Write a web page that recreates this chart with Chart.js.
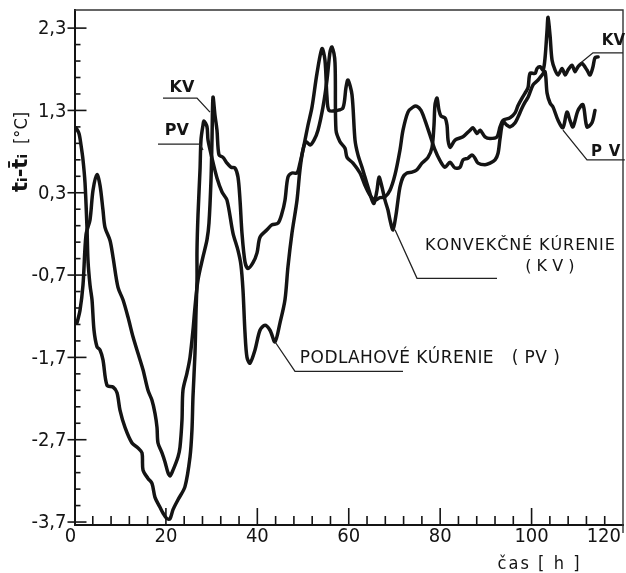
<!DOCTYPE html>
<html>
<head>
<meta charset="utf-8">
<script src="https://cdn.jsdelivr.net/npm/chart.js@4.4.1/dist/chart.umd.min.js"></script>
<style>
html,body{margin:0;padding:0;background:#fff;}
#wrap{width:626px;height:573px;position:relative;}
</style>
</head>
<body>
<div id="wrap"><canvas id="c" width="626" height="573"></canvas></div>
<script>
// ---- data (hours, temperature deviation °C) ----
const kvHours = [0.55,1.20,1.86,2.52,3.39,4.05,4.92,5.58,6.23,6.67,
7.77,8.42,9.52,10.61,11.70,12.80,13.89,14.99,16.08,16.95,
17.61,18.05,18.27,19.14,19.80,20.45,20.89,21.55,22.64,23.08,
23.52,23.73,24.61,25.27,25.92,26.36,27.02,28.11,28.99,29.42,
29.86,30.08,30.30,30.74,31.17,31.61,32.49,33.36,34.24,35.11,
35.77,36.21,36.64,37.30,37.96,39.05,39.93,40.58,42.11,43.21,
44.52,45.39,46.05,46.70,47.58,48.68,49.33,50.21,51.08,51.96,
53.05,54.15,54.80,55.24,55.68,57.43,58.74,59.40,59.83,60.71,
61.37,62.02,62.90,63.55,64.43,65.08,65.52,66.18,66.62,67.27,
67.93,68.58,69.02,69.68,70.33,70.77,71.21,71.87,72.74,73.84,
74.93,76.02,77.34,78.21,78.65,78.87,79.31,79.75,80.19,81.06,
81.50,81.72,82.16,83.25,85.00,86.53,87.18,88.06,88.72,89.81,
90.91,92.44,93.10,93.75,95.29,96.38,97.04,97.91,98.57,99.23,
99.67,100.76,101.20,101.86,102.51,102.95,103.39,103.60,104.04,104.48,
105.14,105.79,106.67,107.33,107.96,108.84,109.49,110.15,111.02,112.12,
112.78,113.43,113.87,114.55];
const kvValues = [-1.28,-1.13,-0.82,-0.21,-0.03,0.33,0.52,0.39,0.09,-0.12,
-0.28,-0.48,-0.85,-1.00,-1.21,-1.45,-1.65,-1.85,-2.10,-2.22,
-2.38,-2.55,-2.74,-2.86,-2.97,-3.10,-3.14,-3.07,-2.91,-2.79,
-2.46,-2.10,-1.89,-1.70,-1.37,-1.09,-0.76,-0.48,-0.27,-0.07,
0.45,0.94,1.46,1.24,1.06,0.76,0.73,0.66,0.61,0.60,
0.49,0.21,-0.19,-0.54,-0.62,-0.55,-0.43,-0.24,-0.15,-0.09,
-0.07,0.05,0.21,0.49,0.54,0.54,0.66,0.88,1.12,1.34,
1.75,2.05,1.91,1.46,1.30,1.30,1.33,1.58,1.67,1.49,
0.94,0.76,0.61,0.49,0.33,0.21,0.17,0.33,0.49,0.37,
0.21,0.09,-0.03,-0.15,0.03,0.21,0.37,0.49,0.54,0.55,
0.58,0.66,0.73,0.85,1.12,1.37,1.45,1.30,1.23,1.21,
1.12,0.94,0.85,0.94,0.98,1.06,1.09,1.02,1.06,0.98,
0.96,0.98,1.10,1.18,1.21,1.27,1.36,1.45,1.51,1.58,
1.75,1.75,1.81,1.83,1.79,1.94,2.28,2.43,2.21,1.91,
1.79,1.73,1.81,1.73,1.79,1.85,1.77,1.83,1.87,1.79,
1.73,1.83,1.94,1.95];

const pvHours = [0.33,0.98,1.42,1.86,2.30,2.73,2.95,3.39,3.83,4.27,
4.92,5.58,6.23,7.11,8.42,9.30,9.95,11.05,12.58,13.89,
14.77,14.99,16.08,16.95,17.61,18.70,19.36,20.24,20.89,21.55,
22.64,24.17,25.27,25.70,25.92,26.36,26.58,26.80,26.80,27.02,
27.46,27.67,28.11,28.33,28.99,29.21,30.08,31.17,32.27,33.36,
34.67,35.77,36.42,36.86,37.30,37.74,38.39,39.49,40.58,41.68,
42.77,43.86,44.96,46.05,46.70,47.58,48.68,49.33,49.99,50.65,
51.52,52.40,53.27,54.36,55.24,55.90,56.33,56.99,57.21,58.08,
59.18,59.62,60.93,62.46,63.55,64.65,65.74,66.83,67.93,69.02,
70.12,71.21,71.87,72.96,74.06,74.93,75.81,76.68,77.78,78.87,
79.97,81.06,82.16,83.25,84.34,85.00,86.09,86.97,87.62,88.28,
89.81,90.91,92.00,92.66,93.10,93.75,94.63,95.29,96.38,97.04,
97.91,98.57,99.23,100.32,101.42,102.29,102.95,103.39,104.04,104.70,
105.79,106.86,107.74,108.40,109.05,110.15,111.24,112.12,113.21,113.87];
const pvValues = [1.09,1.02,0.88,0.70,0.42,-0.12,-0.52,-0.82,-1.00,-1.37,
-1.57,-1.61,-1.73,-2.04,-2.06,-2.13,-2.34,-2.55,-2.74,-2.80,
-2.86,-3.07,-3.17,-3.23,-3.40,-3.52,-3.59,-3.66,-3.66,-3.55,
-3.43,-3.27,-2.91,-2.58,-2.18,-1.65,-1.16,-0.76,-0.40,0.03,
0.58,0.94,1.12,1.17,1.10,0.94,0.72,0.48,0.31,0.21,
-0.19,-0.40,-0.58,-0.88,-1.40,-1.70,-1.77,-1.61,-1.37,-1.31,
-1.37,-1.51,-1.28,-1.00,-0.60,-0.19,0.21,0.58,0.82,0.92,
0.88,0.94,1.06,1.34,1.67,2.01,2.07,1.88,1.06,0.92,
0.84,0.73,0.66,0.54,0.39,0.27,0.21,0.24,0.25,0.33,
0.52,0.82,1.06,1.28,1.34,1.35,1.30,1.18,1.00,0.82,
0.69,0.61,0.67,0.60,0.61,0.70,0.72,0.76,0.72,0.66,
0.64,0.66,0.70,0.78,0.96,1.16,1.12,1.10,1.15,1.22,
1.33,1.40,1.46,1.61,1.67,1.73,1.77,1.51,1.39,1.34,
1.18,1.09,1.28,1.18,1.10,1.30,1.37,1.10,1.15,1.30];

const xTickValues = [0,20,40,60,80,100,120];
const xTickLabels = ['0','20','40','60','80','100','120'];
const yTickValues = [2.3,1.3,0.3,-0.7,-1.7,-2.7,-3.7];
const yTickLabels = ['2,3','1,3','0,3','-0,7','-1,7','-2,7','-3,7'];

const xTitle = 'čas [ h ]';
const yTitleMain = 't\u1D62-t\u0304\u1D62';
const yTitleUnit = '[°C]';

// annotation texts and anchors (data coordinates)
const notes = [
  {text:'KV', x:23.5, y:1.58, bold:true, size:16, pts:[[19.36,1.45],[26.80,1.45],[29.64,1.28]]},
  {text:'PV', x:22.4, y:1.05, bold:true, size:16, pts:[[18.27,0.89],[27.46,0.89],[28.11,0.82]]},
  {text:'KV', x:117.9, y:2.14, bold:true, size:15, pts:[[110.59,1.87],[113.43,2.00],[120.0,2.00]]},
  {text:'PV', y:0.79, bold:true, size:15, spanFrom:113.0, spanTo:119.4, pts:[[106.86,1.06],[112.12,0.70],[120.4,0.70]]},
  {text:'KONVEKČNÉ KÚRENIE', y:-0.35, size:16, spanFrom:76.7, spanTo:118.2, pts:[[70.12,-0.15],[74.93,-0.74],[92.44,-0.74]]},
  {text:'( K V )', x:104.0, y:-0.60, size:16, pts:null},
  {text:'PODLAHOVÉ KÚRENIE   ( PV )', y:-1.71, size:17, spanFrom:49.3, spanTo:106.2, pts:[[43.86,-1.51],[48.24,-1.87],[71.87,-1.87]]}
];

const FONT = "'Liberation Sans Narrow','DejaVu Sans Condensed','Liberation Sans',sans-serif";
const INK = '#141414';

function drawSpaced(ctx, text, x0, x1, y){
  ctx.textAlign = 'left';
  const chars = [...text];
  const w = chars.reduce((s,c)=>s+ctx.measureText(c).width,0);
  const gap = chars.length>1 ? (x1-x0-w)/(chars.length-1) : 0;
  let x = x0;
  for(const c of chars){ ctx.fillText(c, x, y); x += ctx.measureText(c).width + gap; }
}

const decor = {
  id:'decor',
  afterDraw(chart){
    const {ctx, chartArea:a, scales:{x, y}} = chart;
    ctx.save();
    // frame
    ctx.strokeStyle = '#333'; ctx.lineWidth = 1.4;
    ctx.beginPath(); ctx.moveTo(a.left, a.top); ctx.lineTo(a.right, a.top); ctx.lineTo(a.right, a.bottom+8); ctx.stroke();
    // y ticks (inward, every 0.2)
    ctx.strokeStyle = INK; ctx.lineWidth = 1.6;
    for(let i=0;i<=30;i++){
      const v = -3.7 + i*0.2, py = y.getPixelForValue(v), major = i%5===0;
      ctx.beginPath(); ctx.moveTo(major? a.left-7 : a.left, py); ctx.lineTo(a.left + (major?12:6), py); ctx.stroke();
    }
    // x ticks (inward, every 4 h)
    for(let h=0; h<=120; h+=4){
      const px = x.getPixelForValue(h), major = h%20===0;
      if(h===0||h===120) continue;
      ctx.beginPath(); ctx.moveTo(px, a.bottom); ctx.lineTo(px, a.bottom-(major?17:9)); ctx.stroke();
    }
    // y tick labels
    ctx.fillStyle = INK; ctx.font = `20px ${FONT}`; ctx.textBaseline = 'middle'; ctx.textAlign='right';
    yTickValues.forEach((v,i)=>{ ctx.fillText(yTickLabels[i], a.left-8, y.getPixelForValue(v)+1); });
    // x tick labels
    xTickValues.forEach((v,i)=>{
      let px = x.getPixelForValue(v);
      if(i===0){ ctx.textAlign='center'; px -= 4; }
      else if(i===xTickValues.length-1){ ctx.textAlign='right'; px -= 2; }
      else ctx.textAlign='center';
      ctx.fillText(xTickLabels[i], px, a.bottom+12);
    });
    // x title
    ctx.font = `18px ${FONT}`; ctx.textAlign='left'; ctx.textBaseline='alphabetic';
    drawSpaced(ctx, xTitle, a.left+423, a.left+505, a.bottom+44);
    // y title (rotated)
    ctx.save();
    ctx.translate(22, 192); ctx.rotate(-Math.PI/2);
    ctx.textBaseline='middle'; ctx.textAlign='left';
    ctx.font = "bold 21px 'DejaVu Sans',sans-serif";
    ctx.fillText(yTitleMain, 0, 0);
    const w = ctx.measureText(yTitleMain).width;
    ctx.font = `18px ${FONT}`;
    ctx.fillText(yTitleUnit, w+10, 0);
    ctx.restore();
    // annotations
    ctx.strokeStyle = '#222'; ctx.lineWidth = 1.3;
    notes.forEach(n=>{
      if(n.pts){
        ctx.beginPath();
        n.pts.forEach((p,i)=>{ const px=x.getPixelForValue(p[0]), py=y.getPixelForValue(p[1]); i?ctx.lineTo(px,py):ctx.moveTo(px,py); });
        ctx.stroke();
      }
      ctx.font = `${n.bold?'bold ':''}${n.size}px 'DejaVu Sans',sans-serif`;
      ctx.textBaseline='middle';
      const py = y.getPixelForValue(n.y);
      if(n.spanFrom!==undefined){
        drawSpaced(ctx, n.text, x.getPixelForValue(n.spanFrom), x.getPixelForValue(n.spanTo), py);
      } else {
        ctx.textAlign='center';
        ctx.fillText(n.text, x.getPixelForValue(n.x), py);
      }
    });
    ctx.restore();
  }
};

const lineStyle = {borderColor:INK, borderWidth:3.5, pointRadius:0, tension:0.3, borderCapStyle:'round', borderJoinStyle:'round', fill:false};

new Chart(document.getElementById('c'), {
  type:'line',
  data:{
    datasets:[
      {label:'Konvekčné kúrenie (KV)', data:kvHours.map((h,i)=>({x:h,y:kvValues[i]})), ...lineStyle},
      {label:'Podlahové kúrenie (PV)', data:pvHours.map((h,i)=>({x:h,y:pvValues[i]})), ...lineStyle}
    ]
  },
  options:{
    responsive:false, animation:false, devicePixelRatio:1,
    layout:{padding:{top:10,right:3,left:0,bottom:0}},
    plugins:{legend:{display:false}, tooltip:{enabled:false}},
    scales:{
      x:{type:'linear', min:0, max:120,
         grid:{display:false, drawTicks:false},
         border:{display:true, color:INK, width:2},
         ticks:{display:false},
         afterFit(s){ s.height = 48; }},
      y:{type:'linear', min:-3.736, max:2.52,
         grid:{display:false, drawTicks:false},
         border:{display:true, color:INK, width:2},
         ticks:{display:false},
         afterBuildTicks(s){ s.ticks = yTickValues.map(v=>({value:v})); },
         afterFit(s){ s.width = 74.5; }}
    }
  },
  plugins:[decor]
});
</script>
</body>
</html>
